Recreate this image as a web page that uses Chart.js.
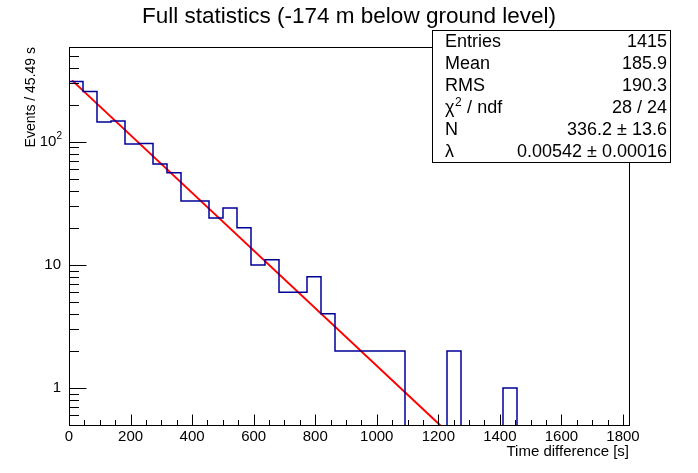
<!DOCTYPE html>
<html>
<head>
<meta charset="utf-8">
<script src="https://cdn.jsdelivr.net/npm/chart.js@4"></script>
<style>
html,body{margin:0;padding:0;background:#fff;}
canvas{display:block;}
</style>
</head>
<body>
<canvas id="c" width="698" height="473" style="width:698px;height:473px"></canvas>
<script>
// ---- data ----
const binWidth = 45.49;
const binCounts = [309, 256, 145, 148, 96, 97, 66, 56, 33, 33,
                   24, 29, 20, 10, 11, 6, 6, 8, 4, 2,
                   2, 2, 2, 2, 0, 0, 0, 2, 0, 0,
                   0, 1, 0, 0, 0, 0, 0, 0, 0, 0];
const fitX = [10, 1300];
const fitY = [316, 0.30];
const xMajorTicks = [0, 200, 400, 600, 800, 1000, 1200, 1400, 1600, 1800];
const xMinorTicks = [50,100,150,250,300,350,450,500,550,650,700,750,850,900,950,1050,1100,1150,1250,1300,1350,1450,1500,1550,1650,1700,1750];
const yMajorTicks = [1, 10, 100];
const yMajorLabels = ['1', '10', '10^2'];
const yMinorTicks = [0.6,0.7,0.8,0.9,2,3,4,5,6,7,8,9,20,30,40,50,60,70,80,90,200,300,400,500];
const statsLabels = ['Entries', 'Mean', 'RMS', 'chi2', 'N', 'λ'];
const statsValues = ['1415', '185.9', '190.3', '28 / 24', '336.2 ± 13.6', '0.00542 ± 0.00016'];
const titleText = 'Full statistics (-174 m below ground level)';
const xTitle = 'Time difference [s]';
const yTitle = 'Events / 45.49 s';
const xMin = 0, xMax = binWidth * binCounts.length;
const yMin = 0.5, yMax = 590;
const emptyFloor = 0.3; // empty bins are drawn below the visible range (log axis)

// histogram step points: each point is the left edge of a bin carrying that bin's count
const histPts = [{x: 0, y: emptyFloor}];
binCounts.forEach((c, i) => histPts.push({x: i * binWidth, y: c > 0 ? c : emptyFloor}));
histPts.push({x: binCounts.length * binWidth, y: emptyFloor});
const fitPts = fitX.map((x, i) => ({x: x, y: fitY[i]}));

const FONT = '"Liberation Sans", Arial, Helvetica, sans-serif';

const rootPlugin = {
  id: 'rootStyle',
  afterDatasetsDraw(chart) {
    const ctx = chart.ctx, a = chart.chartArea;
    const xs = chart.scales.x, ys = chart.scales.y;
    ctx.save();
    ctx.strokeStyle = '#000';
    ctx.fillStyle = '#000';
    ctx.lineWidth = 1;
    // frame
    ctx.strokeRect(Math.round(a.left) + 0.5, Math.round(a.top) + 0.5,
                   Math.round(a.right - a.left), Math.round(a.bottom - a.top));
    // x ticks
    const bot = Math.round(a.bottom) + 0.5;
    ctx.beginPath();
    xMajorTicks.forEach(v => { const p = Math.round(xs.getPixelForValue(v)) + 0.5; ctx.moveTo(p, bot); ctx.lineTo(p, bot - 11); });
    xMinorTicks.forEach(v => { const p = Math.round(xs.getPixelForValue(v)) + 0.5; ctx.moveTo(p, bot); ctx.lineTo(p, bot - 5.5); });
    // y ticks
    const lft = Math.round(a.left) + 0.5;
    yMajorTicks.forEach(v => { const p = Math.round(ys.getPixelForValue(v)) + 0.5; ctx.moveTo(lft, p); ctx.lineTo(lft + 17, p); });
    yMinorTicks.forEach(v => { const p = Math.round(ys.getPixelForValue(v)) + 0.5; ctx.moveTo(lft, p); ctx.lineTo(lft + 9.5, p); });
    ctx.stroke();
    // x tick labels
    ctx.font = '15px ' + FONT;
    ctx.textAlign = 'center';
    ctx.textBaseline = 'middle';
    xMajorTicks.forEach(v => ctx.fillText(String(v), xs.getPixelForValue(v), a.bottom + 12));
    // y tick labels
    yMajorTicks.forEach((v, i) => {
      const p = ys.getPixelForValue(v);
      const lab = yMajorLabels[i];
      ctx.textBaseline = 'middle';
      if (lab.indexOf('^') >= 0) {
        const parts = lab.split('^');
        ctx.font = '10px ' + FONT;
        ctx.textAlign = 'right';
        const sw = ctx.measureText(parts[1]).width;
        ctx.fillText(parts[1], a.left - 7, p - 6);
        ctx.font = '15px ' + FONT;
        ctx.fillText(parts[0], a.left - 7 - sw, p);
      } else {
        ctx.font = '15px ' + FONT;
        ctx.textAlign = 'right';
        ctx.fillText(lab, a.left - 8, p);
      }
    });
    // axis titles
    ctx.font = '15px ' + FONT;
    ctx.textAlign = 'right';
    ctx.textBaseline = 'middle';
    ctx.fillText(xTitle, a.right, 452);
    ctx.save();
    ctx.translate(31, a.top);
    ctx.rotate(-Math.PI / 2);
    ctx.font = '14px ' + FONT;
    ctx.textAlign = 'right';
    ctx.fillText(yTitle, 0, 0);
    ctx.restore();
    // title
    ctx.font = '22.5px ' + FONT;
    ctx.textAlign = 'center';
    ctx.textBaseline = 'alphabetic';
    ctx.fillText(titleText, 349, 23);
    // stats box
    const bx = 432.5, by = 30.5, bw = 238, bh = 132;
    ctx.fillStyle = '#fff';
    ctx.fillRect(bx, by, bw, bh);
    ctx.strokeRect(bx, by, bw, bh);
    ctx.fillStyle = '#000';
    const rowH = bh / statsLabels.length;
    statsLabels.forEach((lab, i) => {
      const cy = by + rowH * (i + 0.5) + 1;
      ctx.font = '18px ' + FONT;
      ctx.textBaseline = 'middle';
      ctx.textAlign = 'left';
      if (lab === 'chi2') {
        ctx.fillText('χ', 445, cy);
        const w1 = ctx.measureText('χ').width;
        ctx.font = '12px ' + FONT;
        ctx.fillText('2', 445 + w1 + 0.5, cy - 6);
        const w2 = ctx.measureText('2').width;
        ctx.font = '18px ' + FONT;
        ctx.fillText(' / ndf', 445 + w1 + w2 + 1, cy);
      } else {
        ctx.fillText(lab, 445, cy);
      }
      ctx.textAlign = 'right';
      ctx.fillText(statsValues[i], 667, cy);
    });
    ctx.restore();
  }
};

new Chart(document.getElementById('c'), {
  type: 'scatter',
  data: {
    datasets: [
      {
        label: 'hist',
        data: histPts,
        showLine: true,
        stepped: 'before',
        borderColor: '#000099',
        borderWidth: 1.5,
        pointRadius: 0,
        fill: false,
        clip: 0
      },
      {
        label: 'fit',
        data: fitPts,
        showLine: true,
        borderColor: '#ff0000',
        borderWidth: 2,
        pointRadius: 0,
        fill: false,
        clip: 0
      }
    ]
  },
  options: {
    responsive: false,
    animation: false,
    devicePixelRatio: 1,
    layout: { padding: { left: 69, top: 47, right: 69, bottom: 48 } },
    plugins: { legend: { display: false }, tooltip: { enabled: false }, title: { display: false } },
    scales: {
      x: { type: 'linear', min: xMin, max: xMax, display: false },
      y: { type: 'logarithmic', min: yMin, max: yMax, display: false }
    }
  },
  plugins: [rootPlugin]
});
</script>
</body>
</html>
